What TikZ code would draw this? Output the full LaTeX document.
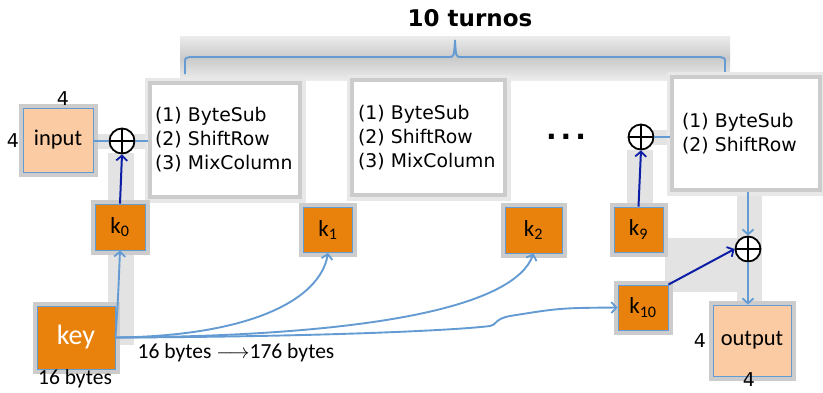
\documentclass[tikz,border=0pt]{standalone}
\usepackage{fontspec}
\setmainfont{DejaVu Sans}
\newfontfamily\calib{Carlito}
\usetikzlibrary{arrows.meta}
\definecolor{lineblue}{RGB}{100,155,210}
\definecolor{darkblue}{RGB}{12,30,165}
\definecolor{keyorange}{RGB}{232,130,12}
\definecolor{peach}{RGB}{251,203,163}
\begin{document}
\begin{tikzpicture}[x=1pt,y=-1pt,
  tip/.tip={Straight Barb[length=5pt,width=11pt,line width=1.8pt]},
  kbox/.style={draw=lineblue, line width=0.9pt, fill=keyorange, inner sep=0pt,
    font=\calib\fontsize{23}{23}\selectfont, preaction={draw=gray!40, line width=9pt}},
  iobox/.style={draw=lineblue, line width=0.9pt, fill=peach, inner sep=0pt,
    font=\calib\fontsize{22.5}{22.5}\selectfont, preaction={draw=gray!40, line width=9pt}},
  roundbox/.style={fill=white, draw=gray!40, line width=4.5pt, align=left,
    font=\fontsize{18.8}{24}\selectfont, preaction={draw=gray!18, line width=11pt}},
  xorsym/.style={circle, draw, line width=1.8pt, minimum size=25pt, inner sep=0pt, fill=white,
    path picture={\draw[line width=1.8pt]
      (path picture bounding box.north) -- (path picture bounding box.south)
      (path picture bounding box.west) -- (path picture bounding box.east);}},
  dimlabel/.style={font=\fontsize{19}{19}\selectfont, inner sep=0pt},
  bytelabel/.style={font=\calib\fontsize{21.5}{21.5}\selectfont, inner sep=0pt},
  keyline/.style={lineblue, line width=1.9pt, -tip},
  plainline/.style={lineblue, line width=1.9pt},
  subline/.style={darkblue, line width=2pt, -tip},
  band/.style={fill=gray!22}
]
\useasboundingbox (0,0) rectangle (823,392);

% soft grey bands behind the data paths
\shade[top color=gray!15, bottom color=gray!15, middle color=gray!42] (180,36) rectangle (730,80);
\fill[band] (108,153) rectangle (134,345);
\fill[band] (93,134) rectangle (150,149);
\fill[band] (627,150) rectangle (653,207);
\fill[band] (653,130) rectangle (672,145);
\fill[band] (737,190) rectangle (762,320);
\fill[band] (665,238) rectangle (745,292);

% title and brace over the rounds
\node[font=\bfseries\fontsize{23}{23}\selectfont, inner sep=0pt] (title) at (470,18) {10 turnos};
\draw[plainline] (185,74) -- (185,63) .. controls (185,58) .. (190,57) -- (449,57)
  .. controls (454,57) .. (455,40) .. controls (456,57) .. (461,57) -- (720,57)
  .. controls (725,58) .. (725,63) -- (725,74);

% state input
\node[iobox, minimum width=70pt, minimum height=64pt] (inp) at (58,140) {input};
\node[dimlabel] (inp4t) at (63,99) {4};
\node[dimlabel] (inp4l) at (13,141) {4};
\node[xorsym] (xa) at (122,141) {};

% rounds
\node[roundbox, minimum width=150pt, minimum height=114pt, inner xsep=5pt, text width=140pt]
  (r1) at (225,140) {(1) ByteSub\\(2) ShiftRow\\(3) MixColumn};
\node[roundbox, minimum width=153pt, minimum height=115pt, inner xsep=6pt, text width=141pt]
  (r2) at (428.5,137.5) {(1) ByteSub\\(2) ShiftRow\\(3) MixColumn};
\node[font=\bfseries\fontsize{28}{28}\selectfont, inner sep=0pt] (dots) at (566,137)
  {.\hspace{4pt}.\hspace{4pt}.};
\node[xorsym] (xb) at (641,137) {};
\node[roundbox, minimum width=148pt, minimum height=113pt, inner xsep=10pt, text width=128pt]
  (r3) at (746,133.5) {(1) ByteSub\\(2) ShiftRow};

% round keys
\node[kbox, minimum width=50pt, minimum height=46pt] (k0) at (120,227) {k\textsubscript{0}};
\node[kbox, minimum width=49pt, minimum height=45pt] (k1) at (328,230) {k\textsubscript{1}};
\node[kbox, minimum width=57pt, minimum height=46pt] (k2) at (533.5,230) {k\textsubscript{2}};
\node[kbox, minimum width=49pt, minimum height=45pt] (k9) at (638.5,229.5) {k\textsubscript{9}};
\node[kbox, minimum width=50pt, minimum height=45pt] (k10) at (643,307.5) {k\textsubscript{10}};

% cipher key
\node[kbox, minimum width=78pt, minimum height=63pt, text=white,
  font=\calib\fontsize{28}{28}\selectfont] (key) at (76,337.5) {key};
\node[bytelabel] (keybytes) at (75,379) {16 bytes};
\node[bytelabel] (expand) at (236,353) {16 bytes $\longrightarrow$176 bytes};

% final xor and output
\node[xorsym] (xc) at (748,249) {};
\node[iobox, minimum width=78pt, minimum height=71pt] (out) at (752,340.5) {output};
\node[dimlabel] (out4l) at (700,341) {4};
\node[dimlabel] (out4b) at (749,380) {4};

% data path
\draw[plainline] (inp.east |- xa) -- (xa.west);
\draw[plainline] (xa.east) -- (xa.east -| r1.west);
\draw[plainline] (xb.east) -- (xb.east -| r3.west);
\draw[keyline] (r3.south -| xc) -- (xc.north);
\draw[keyline] (xc.south) -- (out.north -| xc);

% round keys into the xors
\draw[subline] (k0.north) -- (xa.south);
\draw[subline] (k9.north) -- (xb.south);
\draw[subline] (k10.north east) -- (xc.west);

% key expansion
\draw[keyline] (key.east) .. controls (118,300) .. (k0.south);
\draw[keyline] (key.east) .. controls (250,336) and (320,300) .. (k1.south);
\draw[keyline] (key.east) .. controls (380,336) and (515,305) .. (k2.south);
\draw[keyline] (key.east) .. controls (300,337) and (450,331) .. (490,326)
  .. controls (497,325) and (494,319) .. (510,316) .. controls (560,308) .. (k10.west);
\end{tikzpicture}
\end{document}
